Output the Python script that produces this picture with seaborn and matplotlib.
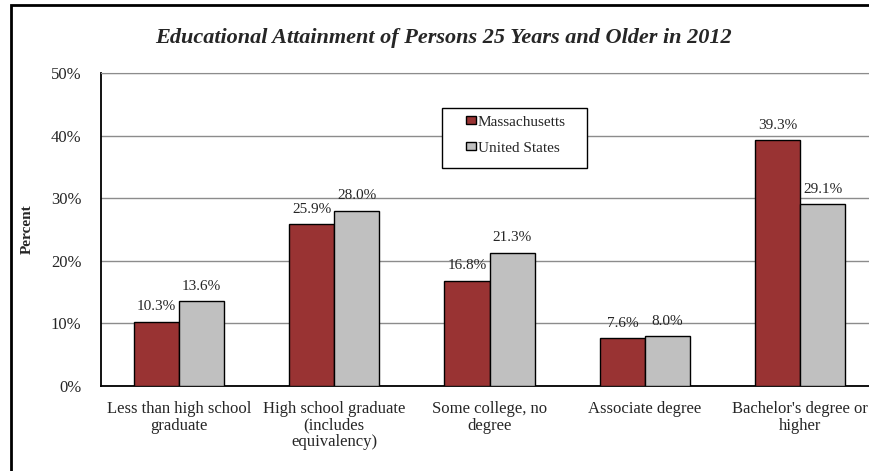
import pandas as pd
import matplotlib.pyplot as plt
from matplotlib.patches import Rectangle
import seaborn as sns

# Educational attainment, persons 25+ (2012), percent
categories = ['Less than high school\ngraduate',
              'High school graduate\n(includes\nequivalency)',
              'Some college, no\ndegree',
              'Associate degree',
              "Bachelor's degree or\nhigher"]
massachusetts = [10.3, 25.9, 16.8, 7.6, 39.3]
united_states = [13.6, 28.0, 21.3, 8.0, 29.1]
regions = ['Massachusetts', 'United States']
y_ticks = [0, 10, 20, 30, 40, 50]

df = pd.DataFrame({
    'Category': categories * 2,
    'Percent': massachusetts + united_states,
    'Region': [regions[0]] * len(categories) + [regions[1]] * len(categories),
})

sns.set_style('white')
plt.rcParams['font.family'] = ['Liberation Serif', 'DejaVu Serif']

fig = plt.figure(figsize=(8.69, 4.71), dpi=100)
ax = fig.add_axes([101 / 869, 85 / 471, 777 / 869, 313 / 471])

sns.barplot(data=df, x='Category', y='Percent', hue='Region',
            palette=['#993333', '#C0C0C0'], saturation=1, width=0.58,
            edgecolor='black', linewidth=1, ax=ax, zorder=3)

# value labels above bars
for cont in ax.containers:
    ax.bar_label(cont, labels=[f'{b.get_height():.1f}%' for b in cont],
                 padding=6, fontsize=11)

ax.set_xlim(-0.5, len(categories) - 0.5)
ax.set_ylim(0, 50)
ax.set_yticks(y_ticks)
ax.set_yticklabels([f'{t}%' for t in y_ticks], fontsize=12)
ax.tick_params(axis='y', direction='out', length=5, width=1, color='black', pad=9)

# category labels centred, tick marks between groups
ax.set_xticks(range(len(categories)))
ax.set_xticklabels(categories, fontsize=12, linespacing=1.05)
ax.tick_params(axis='x', which='major', length=0, pad=11)
ax.set_xticks([i - 0.5 for i in range(len(categories) + 1)], minor=True)
ax.tick_params(axis='x', which='minor', direction='out', length=5, width=1, color='black')

ax.set_axisbelow(True)
ax.yaxis.grid(True, color='#8c8c8c', linewidth=1)
ax.xaxis.grid(False)
ax.spines['left'].set_color('black')
ax.spines['left'].set_linewidth(1.3)
ax.spines['bottom'].set_color('black')
ax.spines['bottom'].set_linewidth(1.3)
ax.spines['top'].set_color('#8c8c8c')
ax.spines['right'].set_visible(False)

ax.set_xlabel('')
ax.set_ylabel('Percent', fontsize=11, fontweight='bold')
ax.yaxis.set_label_coords(-0.086, 0.5)

# legend with its own wider box
handles, labels = ax.get_legend_handles_labels()
ax.get_legend().remove()
ax.add_patch(Rectangle(((442 - 101) / 777, (386 - 168) / 313), 145 / 777, 60 / 313,
                       transform=ax.transAxes, facecolor='white', edgecolor='black',
                       linewidth=1, zorder=4))
leg = ax.legend(handles, labels, loc='upper left', bbox_to_anchor=((461 - 101) / 777, (386 - 111) / 313),
                borderaxespad=0, frameon=False, fontsize=11, handlelength=0.65,
                handleheight=0.45, handletextpad=0.15, labelspacing=0.85, borderpad=0.3)
leg.set_zorder(5)

fig.text(443 / 869, 1 - 38 / 471, 'Educational Attainment of Persons 25 Years and Older in 2012',
         ha='center', va='center', fontsize=16, fontweight='bold', fontstyle='italic')

# outer chart border (cropped at right and bottom)
fig.add_artist(Rectangle((10.5 / 869, -0.1), 1.2, 1.1 - 4.5 / 471, transform=fig.transFigure,
                         fill=False, linewidth=2, edgecolor='black'))

fig.savefig('out.png', dpi=100)
